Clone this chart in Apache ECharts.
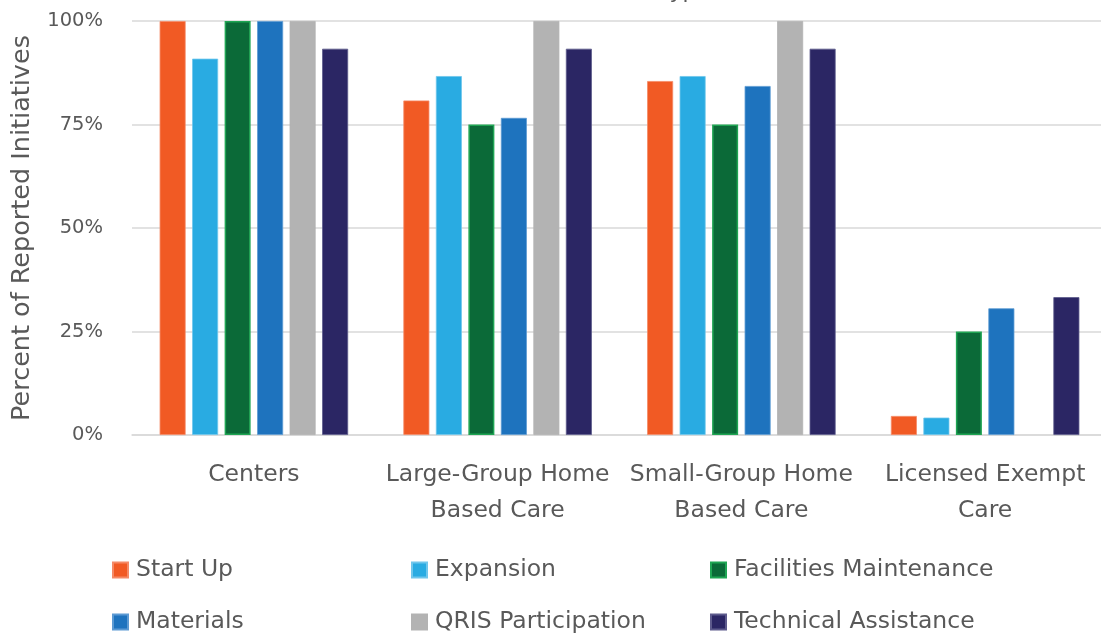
<!DOCTYPE html>
<html>
<head>
<meta charset="utf-8">
<script src="https://cdn.jsdelivr.net/npm/echarts@6/dist/echarts.min.js"></script>
<style>
html,body{margin:0;padding:0;background:#fff;}
#chart{width:1101px;height:634px;}
</style>
</head>
<body>
<div id="chart"></div>
<script>
const categories = ['Centers', 'Large-Group Home\nBased Care', 'Small-Group Home\nBased Care', 'Licensed Exempt\nCare'];
const seriesNames = ['Start Up', 'Expansion', 'Facilities Maintenance', 'Materials', 'QRIS Participation', 'Technical Assistance'];
const startUp = [100, 80.8, 85.5, 4.6];
const expansion = [90.9, 86.7, 86.7, 4.2];
const facilities = [100, 75, 75, 25];
const materials = [100, 76.6, 84.3, 30.6];
const qris = [100, 100, 100, null];
const technical = [93.3, 93.3, 93.3, 33.3];
const yTicks = [0, 25, 50, 75, 100];

const values = [startUp, expansion, facilities, materials, qris, technical];
const colors = ['#F15A24', '#29ABE2', '#0B6A38', '#1E73BE', '#B3B3B3', '#2B2664'];
const borders = ['#F58A66', '#6FC6EC', '#1FA553', '#5C9AD3', '#B3B3B3', '#5D5A8C'];
const FONT = '"DejaVu Sans", sans-serif';
const TXT = '#595959';

const chart = echarts.init(document.getElementById('chart'));
chart.setOption({
  animation: false,
  title: {
    text: 'Provider Type',
    left: 562,
    top: -19,
    padding: 0,
    textStyle: { fontFamily: FONT, fontSize: 22, fontWeight: 'normal', color: TXT }
  },
  grid: { left: 132, width: 975, top: 21, bottom: 199, containLabel: false, outerBoundsMode: 'none' },
  legend: {
    left: 112, top: 554, width: 920, padding: 0,
    itemWidth: 15, itemHeight: 15, itemGap: 20,
    icon: 'rect',
    data: seriesNames,
    textStyle: { fontFamily: FONT, fontSize: 23.5, color: TXT, width: 255, lineHeight: 32, padding: [0, 0, 0, 3] }
  },
  xAxis: {
    type: 'category',
    data: categories,
    axisLine: { show: true, lineStyle: { color: '#D9D9D9', width: 1.5 } },
    axisTick: { show: false },
    axisLabel: { fontFamily: FONT, fontSize: 23.5, color: TXT, lineHeight: 36, margin: 22, interval: 0 }
  },
  yAxis: {
    type: 'value',
    min: yTicks[0], max: yTicks[yTicks.length - 1], interval: 25,
    name: 'Percent of Reported Initiatives',
    nameLocation: 'middle',
    nameGap: 97,
    nameTextStyle: { fontFamily: FONT, fontSize: 25.5, color: TXT },
    axisLine: { show: false },
    axisTick: { show: false },
    splitLine: { lineStyle: { color: '#D9D9D9', width: 1.5 } },
    axisLabel: { fontFamily: FONT, fontSize: 19.5, color: TXT, margin: 29, formatter: '{value}%' }
  },
  series: seriesNames.map((n, i) => ({
    name: n,
    type: 'bar',
    data: values[i],
    barWidth: 26,
    barGap: '25%',
    itemStyle: { color: colors[i], borderColor: borders[i], borderWidth: i === 2 ? 1.5 : 0.8 }
  }))
});
</script>
</body>
</html>
